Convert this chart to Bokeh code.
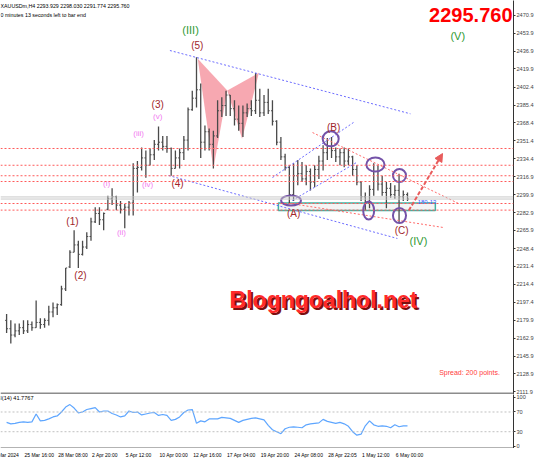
from bokeh.plotting import figure
from bokeh.layouts import column
from bokeh.models import (LinearAxis, FixedTicker, Range1d, Label, Span, Arrow,
                          NormalHead, PrintfTickFormatter)
from bokeh.core.properties import value
from bokeh.embed import file_html
from bokeh.resources import INLINE

FONT = "Liberation Sans"

# ---------------- data ----------------
bar_open = [2180,2172,2166,2170,2173,2170,2176,2173,2178,2176,
            2180,2188,2192,2195,2210,2231,2245,2252,2243,2250,
            2260,2274,2282,2276,2286,2296,2298,2290,2286,2288,
            2292,2325,2326,2335,2328,2338,2348,2350,2346,2344,
            2325,2335,2340,2352,2381,2392,2400,2350,2360,2348,
            2356,2380,2385,2395,2382,2372,2368,2378,2382,2380,
            2390,2378,2388,2380,2370,2350,2336,2326,2300,2318,
            2320,2315,2322,2312,2324,2332,2340,2346,2342,2336,
            2340,2332,2336,2324,2312,2298,2292,2305,2322,2310,
            2302,2306,2300,2304,2298,2300]
bar_high = [2186,2180,2177,2177,2180,2180,2179,2199,2182,2182,
            2194,2197,2196,2213,2230,2247,2266,2256,2256,2264,
            2278,2288,2288,2283,2299,2306,2299,2294,2291,2294,
            2330,2332,2345,2342,2344,2352,2365,2356,2356,2345,
            2342,2344,2356,2383,2399,2431,2406,2366,2363,2361,
            2390,2393,2399,2395,2390,2385,2385,2387,2390,2416,
            2401,2395,2401,2390,2371,2355,2339,2328,2330,2333,
            2331,2328,2325,2328,2337,2347,2354,2355,2345,2344,
            2345,2344,2337,2328,2313,2302,2309,2330,2328,2318,
            2312,2311,2309,2320,2304,2302]
bar_low = [2168,2158,2164,2166,2167,2168,2170,2173,2172,2173,
           2175,2183,2185,2194,2208,2230,2245,2230,2242,2248,
           2256,2273,2271,2266,2285,2290,2285,2282,2268,2280,
           2280,2302,2323,2316,2328,2333,2342,2342,2340,2318,
           2325,2325,2333,2342,2380,2383,2335,2342,2342,2325,
           2354,2374,2375,2375,2366,2361,2355,2374,2375,2377,
           2374,2375,2377,2366,2347,2333,2323,2291,2294,2309,
           2312,2309,2304,2307,2315,2323,2333,2335,2331,2328,
           2326,2328,2318,2309,2294,2285,2287,2299,2304,2299,
           2287,2297,2296,2273,2294,2294]
bar_close = [2172,2166,2170,2173,2170,2176,2173,2178,2176,2180,
             2188,2192,2195,2210,2230,2245,2252,2243,2250,2260,
             2274,2282,2276,2282,2296,2298,2290,2286,2288,2292,
             2325,2326,2335,2328,2338,2348,2350,2346,2344,2325,
             2335,2340,2352,2381,2392,2400,2350,2360,2348,2356,
             2380,2385,2395,2382,2372,2368,2378,2382,2380,2390,
             2378,2388,2380,2370,2350,2336,2326,2300,2318,2320,
             2315,2322,2312,2324,2332,2340,2346,2342,2336,2340,
             2332,2336,2324,2312,2298,2292,2305,2322,2310,2302,
             2306,2300,2304,2298,2300,2295.76]
rsi = [49,46,47,49,50,49,50,66,52,53,
       56,60,62,70,80,85,78,68,70,75,
       77,79,70,72,72,67,64,60,62,72,
       69,70,64,66,68,69,63,65,63,53,
       55,60,69,74,75,47,52,50,56,56,
       56,59,58,57,53,49,53,55,57,58,
       56,54,43,34,30,26,36,39,40,39,
       38,44,46,47,48,55,51,49,47,49,
       46,41,30,23,25,42,52,44,41,42,
       41,38,44,40,42,41.7767]

price_ticks = [2470.9,2453.9,2436.9,2419.9,2402.4,2385.4,2368.4,2351.4,2334.4,
               2316.9,2299.9,2282.9,2265.9,2248.4,2231.4,2214.4,2197.4,2179.9,
               2162.9,2145.9,2128.9,2111.9]
rsi_ticks = [0, 30, 70, 100]
rsi_levels = [70, 30]
time_tick_bars = [-4, 4, 12, 20, 28, 36, 44, 52, 60, 68, 76, 84, 92]
time_labels = ["21 Mar 2024", "25 Mar 16:00", "28 Mar 08:00", "2 Apr 20:00", "5 Apr 12:00",
               "10 Apr 00:00", "12 Apr 16:00", "17 Apr 04:00", "19 Apr 20:00",
               "24 Apr 08:00", "28 Apr 22:05", "1 May 12:00", "6 May 00:00"]

level_prices = [2344.0, 2328.0, 2318.0, 2312.5, 2291.5, 2285.2]
level_texts = ["2344.0", "2328.0", "2318.0", "2312.5", "2291.5", "2285.2"]
bid_price = 2295.76
ask_price = 2297.76

# wave labels
wave_text = ["(III)", "(5)", "(3)", "(v)", "(iii)", "(i)", "(iv)", "(4)", "(ii)", "(1)", "(2)",
             "(A)", "(B)", "(C)", "(IV)", "(V)"]
wave_x = [43.6, 45.2, 35.8, 35.8, 31.3, 23.7, 33.4, 40.5, 27.2, 15.6, 17.5,
          68.0, 77.5, 93.6, 97.6, 106.9]
wave_y = [2457.5, 2442.3, 2386.0, 2374.5, 2358.3, 2310.6, 2309.6, 2310.6, 2263.8, 2274.3, 2222.8,
          2282.0, 2364.0, 2265.7, 2256.2, 2451.8]
wave_kind = ["major", "main", "main", "minor", "minor", "minor", "minor", "main", "minor", "main", "main",
             "main", "main", "main", "major", "major"]

# ellipses (bar index, price, width in bars, height in price)
ell_x = [67.4, 76.8, 87.4, 85.8, 93.1, 93.1]
ell_y = [2294.4, 2353.2, 2328.7, 2284.8, 2318.2, 2280.0]
ell_w = [4.7, 3.8, 4.3, 2.6, 3.1, 3.1]
ell_h = [9.5, 14.3, 13.4, 17.2, 12.4, 14.3]

# trend lines
blue_x0 = [38.7, 38.4, 63.0, 67.7]
blue_y0 = [2437.5, 2318.2, 2316.3, 2294.4]
blue_x1 = [95.7, 92.6, 82.2, 82.9]
blue_y1 = [2377.1, 2258.1, 2368.8, 2330.6]
red_x0 = [72.5, 67.3]
red_y0 = [2359.2, 2291.5]
red_x1 = [107.1, 103.5]
red_y1 = [2291.5, 2268.6]

# butterfly pattern X-A-B and B-C-D
bfly_x = [[45.3, 49.0, 52.3], [52.3, 55.8, 59.8]]
bfly_y = [[2429.6, 2324.6, 2399.3], [2399.3, 2353.2, 2416.2]]

# target box
box_left, box_right, box_bottom, box_top = 64.4, 101.6, 2284.8, 2291.9
arrow_start = (95.3, 2284.8)
arrow_end = (103.3, 2339.2)

# ---------------- figures ----------------
FW = 513
n = len(bar_close)
idx = list(range(n))
xr = Range1d(-1.445, -1.445 + FW / 4.22)

p = figure(frame_width=FW, frame_height=394, x_range=xr, y_range=Range1d(2109.26, 2485.21),
           output_backend="svg", toolbar_location=None, x_axis_location=None,
           y_axis_location=None, min_border=0, outline_line_color=None)
p.grid.visible = False

ax = LinearAxis(ticker=FixedTicker(ticks=price_ticks), formatter=PrintfTickFormatter(format="%.1f"),
                major_tick_out=2, major_tick_in=0, minor_tick_line_color=None,
                major_label_standoff=1, major_label_text_font_size="5.6px",
                major_label_text_font=FONT, axis_line_color="#333333",
                major_tick_line_color="#333333")
p.add_layout(ax, "right")

# horizontal level lines
for lv in level_prices:
    p.add_layout(Span(location=lv, dimension="width", line_color="#ff5a5a",
                      line_dash="2 2", line_width=1))
for lv in (bid_price, ask_price):
    p.add_layout(Span(location=lv, dimension="width", line_color="#c8c8c8", line_width=1))

# butterfly
p.patches(xs=bfly_x, ys=bfly_y, fill_color="#f7a3ad", line_color=None, fill_alpha=0.95)

# target box
p.quad(left=[box_left], right=[box_right], bottom=[box_bottom], top=[box_top],
       fill_color="#e0e0e0", fill_alpha=0.35, line_color="#3fb3a3", line_width=1.5)

# bars
p.segment(x0=idx, y0=bar_low, x1=idx, y1=bar_high, line_color="#4a4a4a", line_width=1.3)
p.segment(x0=[i - 0.35 for i in idx], y0=bar_open, x1=idx, y1=bar_open,
          line_color="#4a4a4a", line_width=1)
p.segment(x0=idx, y0=bar_close, x1=[i + 0.35 for i in idx], y1=bar_close,
          line_color="#4a4a4a", line_width=1)

# trend lines
p.segment(x0=blue_x0, y0=blue_y0, x1=blue_x1, y1=blue_y1, line_color="#6b6bff",
          line_dash="2 2", line_width=1)
p.segment(x0=red_x0, y0=red_y0, x1=red_x1, y1=red_y1, line_color="#ff6a6a",
          line_dash="2 2", line_width=1)

# ellipses
p.ellipse(x=ell_x, y=ell_y, width=ell_w, height=ell_h, fill_color=None,
          line_color="#7452a8", line_width=2)

# arrow
p.add_layout(Arrow(end=NormalHead(size=8, fill_color="#e85c5c", line_color="#e85c5c"),
                   x_start=arrow_start[0], y_start=arrow_start[1],
                   x_end=arrow_end[0], y_end=arrow_end[1],
                   line_color="#e85c5c", line_width=2, line_dash="4 2"))

colors = {"major": "#2f9a34", "main": "#a0262a", "minor": "#f27cf0"}
sizes = {"major": "11px", "main": "10px", "minor": "8px"}
for kind in ("major", "main", "minor"):
    sel = [i for i, k in enumerate(wave_kind) if k == kind]
    p.text(x=[wave_x[i] for i in sel], y=[wave_y[i] for i in sel],
           text=[wave_text[i] for i in sel], text_font=value(FONT),
           text_font_size=sizes[kind], text_color=colors[kind],
           text_align="center", text_baseline="middle")

p.text(x=[97.4], y=[2293.4], text=["180-13"], text_font=value(FONT), text_font_size="6px",
       text_color="#3a5cff", text_align="left", text_baseline="middle")

# watermark
p.text(x=[75.35], y=[2198.0], text=["Blogngoalhol.net"], text_font=value(FONT),
       text_font_size="23px", text_font_style="bold", text_color="#7a1010",
       text_align="center", text_baseline="middle", x_offset=1, y_offset=1)
p.text(x=[75.1], y=[2199.0], text=["Blogngoalhol.net"], text_font=value(FONT),
       text_font_size="23px", text_font_style="bold", text_color="#ff2a2a",
       text_align="center", text_baseline="middle")

p.text(x=[xr.end], y=[2470.9], text=["2295.760"], text_font=value(FONT),
       text_font_size="20px", text_font_style="bold", text_color="#ff0000",
       text_align="right", text_baseline="middle", x_offset=-1)
p.text(x=[109.7], y=[2130.2], text=["Spread: 200 points."], text_font=value(FONT),
       text_font_size="7px", text_color="#ff3c3c", text_align="center", text_baseline="middle")
p.text(x=[xr.start, xr.start], y=[2480.4, 2471.8],
       text=["XAUUSDm,H4  2293.929 2298.030 2291.774 2295.760",
             "0 minutes 13 seconds left to bar end"],
       text_font=value(FONT), text_font_size="5.3px", text_color="#000000",
       text_align="left", text_baseline="middle", x_offset=0)

# window separator
p.add_layout(Span(location=2110.2, dimension="width", line_color="#8c8c8c", line_width=2))

# price boxes on the axis
for lv, tx in zip(level_prices, level_texts):
    p.add_layout(Label(x=xr.end, y=lv, x_offset=2, text=tx, text_font=FONT,
                       text_font_size="5.3px", text_color="white", text_baseline="middle",
                       background_fill_color="#ff1a1a"))
p.add_layout(Label(x=xr.end, y=bid_price, x_offset=2, text="2295.76", text_font=FONT,
                   text_font_size="5.3px", text_color="white", text_baseline="middle",
                   background_fill_color="#000000"))

# ---------------- RSI ----------------
r = figure(frame_width=FW, frame_height=54, x_range=xr, y_range=Range1d(-4.06, 105.5),
           output_backend="svg", toolbar_location=None, x_axis_location=None,
           y_axis_location=None, min_border=0, outline_line_color=None)
r.grid.visible = False
rax = LinearAxis(ticker=FixedTicker(ticks=rsi_ticks), major_tick_out=2, major_tick_in=0,
                 minor_tick_line_color=None, major_label_standoff=1,
                 major_label_text_font_size="5.6px", major_label_text_font=FONT,
                 axis_line_color="#333333", major_tick_line_color="#333333")
r.add_layout(rax, "right")
for lv in rsi_levels:
    r.add_layout(Span(location=lv, dimension="width", line_color="#c0c0c0",
                      line_dash="2 2", line_width=1))
r.line(x=idx, y=rsi, line_color="#5ea6ff", line_width=1.2)
r.text(x=[xr.start], y=[99.4], text=["RSI(14) 41.7767"], text_font=value(FONT),
       text_font_size="5.6px", text_color="#000000", text_align="left",
       text_baseline="middle", x_offset=-8)
r.add_layout(Span(location=-3.3, dimension="width", line_color="#333333", line_width=1))

# ---------------- time strip ----------------
s = figure(frame_width=FW, frame_height=14, x_range=xr, y_range=Range1d(0, 14),
           output_backend="svg", toolbar_location=None, x_axis_location=None,
           y_axis_location=None, min_border=0, outline_line_color=None)
s.grid.visible = False
s.text(x=time_tick_bars, y=[8] * len(time_tick_bars), text=time_labels, text_font=value(FONT),
       text_font_size="5px", text_color="#000000", text_align="left",
       text_baseline="middle", x_offset=1)

layout = column(p, r, s)
open("out.html", "w").write(file_html(layout, INLINE))
